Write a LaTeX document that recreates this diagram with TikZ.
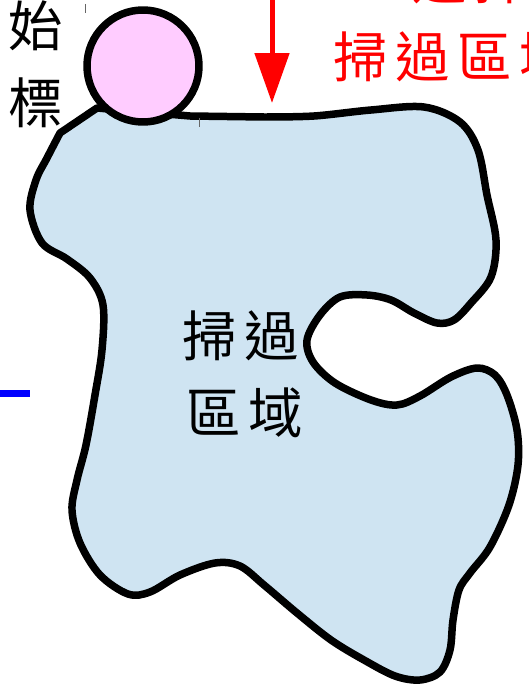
\documentclass[tikz,border=0pt]{standalone}
\usepackage{fontspec}
\newfontfamily\cjk{Noto Sans CJK TC}[LetterSpace=14]
\usetikzlibrary{arrows.meta}
\definecolor{sweepfill}{RGB}{207,228,242}
\definecolor{startfill}{RGB}{255,204,255}
\begin{document}
\begin{tikzpicture}
% sweep area sketch, pixel grid 528x686, y down
\def\pxsz{0.02cm}
\providecommand{\outlineWidth}{0.15cm}
\tikzset{
  chars/.style={font=\cjk\fontsize{31}{31}\selectfont, inner sep=0pt, anchor=west},
  redchars/.style={chars, text=red},
  outline/.style={draw=black, line width=\outlineWidth, line join=round},
}
\begin{scope}[x=\pxsz, y=-\pxsz]
  \useasboundingbox (0,0) rectangle (528,686);
  \clip (0,0) rectangle (528,686);
  % Sweep area outline as a smooth closed curve
  \path[outline, fill=sweepfill] (60,133) -- (97,108) -- (190,116)
    -- plot[smooth, tension=0.55] coordinates {(264,117) (314,116) (371,110) (424,107)
      (460,122) (478,150) (487,195) (496,240) (491,277) (471,303) (454,320) (437,323)
      (414,313) (391,300) (367,295) (340,297) (320,315) (307,340) (313,362) (335,383)
      (371,400) (397,405) (420,396) (451,377) (477,368) (495,375) (507,395) (517,430)
      (518,465) (509,505) (490,547) (470,573) (459,590) (453,620) (450,650) (440,672)
      (420,680) (395,676) (364,660) (331,640) (297,613) (264,585) (240,566) (215,563)
      (180,575) (150,592) (128,594) (100,575) (80,543) (72,510) (77,480) (86,445)
      (95,395) (102,350) (103,305) (90,278) (67,259) (42,243) (30,210) (36,180)
      (47,158) (60,133)} -- cycle;
  % Start marker
  \node[circle, outline, fill=startfill, minimum size=2.24cm, inner sep=0pt] (start) at (143,66) {};
  % Labels
  \node[chars] (startA) at (8,26) {始};
  \node[chars] (startB) at (8,103) {標};
  \node[chars] (areaA) at (182,336) {掃過};
  \node[chars] (areaB) at (186,413) {區域};
  \node[redchars] (stepA) at (333,-21) {2. 選擇};
  \node[redchars] (stepB) at (333,57) {掃過區域};
  % Arrow and left bar
  \coordinate (arrowTop) at (272,-5);
  \coordinate (arrowTip) at (272,103);
  \draw[red, line width=0.1cm, -{Triangle[length=1cm, width=0.68cm]}] (arrowTop) -- (arrowTip);
  \coordinate (barL) at (0,393);
  \coordinate (barR) at (30,393);
  \draw[blue, line width=0.14cm] (barL) -- (barR);
  % Stray ticks
  \coordinate (tickA) at (85,4);
  \coordinate (tickB) at (199,118);
  \draw[black!60, line width=0.4pt] (tickA) -- ++(0,9);
  \draw[black!60, line width=0.4pt] (tickB) -- ++(0,9);
\end{scope}
\end{tikzpicture}
\end{document}
